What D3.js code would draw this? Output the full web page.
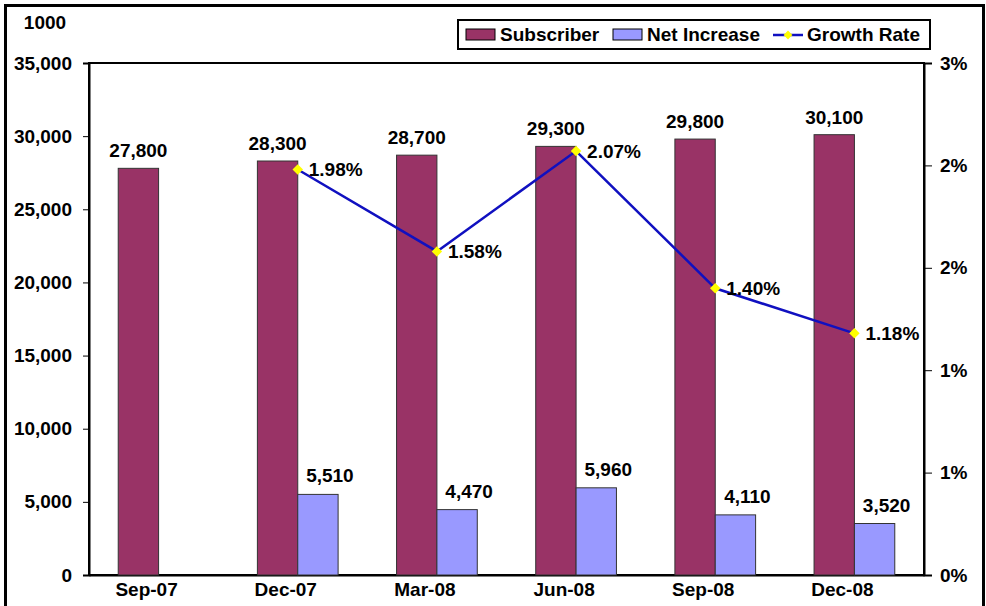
<!DOCTYPE html>
<html>
<head>
<meta charset="utf-8">
<script src="https://cdn.jsdelivr.net/npm/d3@7"></script>
<style>
  body { margin: 0; background: #fff; }
  text { font-family: "Liberation Sans", Arial, sans-serif; font-weight: bold; fill: #000; }
</style>
</head>
<body>
<div id="chart"></div>
<script>
// Data
var quarters = ["Sep-07", "Dec-07", "Mar-08", "Jun-08", "Sep-08", "Dec-08"];
var subscribers = [27800, 28300, 28700, 29300, 29800, 30100];
var netIncrease = [null, 5510, 4470, 5960, 4110, 3520];
var growthRate = [null, 1.98, 1.58, 2.07, 1.40, 1.18]; // percent
var leftTicks = [0, 5000, 10000, 15000, 20000, 25000, 30000, 35000];
var rightTicks = [0, 0.5, 1, 1.5, 2, 2.5];

var width = 986, height = 606;
var marginLeft = 89, marginRight = 62, marginTop = 63, marginBottom = 31;
var fs = "19px";

var svg = d3.select("#chart").append("svg")
  .attr("width", width)
  .attr("height", height);

// outer frame
svg.append("rect")
  .attr("x", 5.5).attr("y", 5.5)
  .attr("width", width - 8).attr("height", height + 10)
  .attr("fill", "none").attr("stroke", "#000").attr("stroke-width", 3);

// Scales
var x = d3.scaleBand().domain(quarters)
  .range([marginLeft, width - marginRight]);
var barW = x.bandwidth() * 0.29;
var yL = d3.scaleLinear().domain([0, 35000]).range([height - marginBottom, marginTop]);
var yR = d3.scaleLinear().domain([0, 2.5]).range([height - marginBottom, marginTop]);
var center = function (q) { return x(q) + x.bandwidth() / 2; };

// plot border
svg.append("rect")
  .attr("x", marginLeft).attr("y", marginTop)
  .attr("width", width - marginRight - marginLeft)
  .attr("height", height - marginBottom - marginTop)
  .attr("fill", "none").attr("stroke", "#000").attr("stroke-width", 2);

// Axes
svg.append("g")
  .attr("transform", `translate(${marginLeft},0)`)
  .call(d3.axisLeft(yL).tickValues(leftTicks).tickFormat(d3.format(",")).tickSize(6).tickPadding(11))
  .call((g) => g.select(".domain").attr("stroke-width", 2))
  .call((g) => g.selectAll("text").style("font-size", fs));

svg.append("g")
  .attr("transform", `translate(${width - marginRight},0)`)
  .call(d3.axisRight(yR).tickValues(rightTicks).tickFormat((d) => Math.round(d) + "%").tickSize(8).tickPadding(8))
  .call((g) => g.select(".domain").attr("stroke-width", 2))
  .call((g) => g.selectAll("text").style("font-size", fs));

svg.append("g")
  .attr("transform", `translate(0,${height - marginBottom})`)
  .call(d3.axisBottom(x).tickSize(0).tickPadding(8))
  .call((g) => g.select(".domain").attr("stroke-width", 2))
  .call((g) => g.selectAll("text").style("font-size", fs).attr("dx", -12));

// unit label
svg.append("text")
  .attr("x", 45).attr("y", 29)
  .attr("text-anchor", "middle")
  .style("font-size", fs)
  .text("1000");

// Subscriber bars
svg.append("g").selectAll("rect")
  .data(quarters)
  .join("rect")
  .attr("x", (d) => center(d) - barW)
  .attr("y", (d, i) => yL(subscribers[i]))
  .attr("width", barW)
  .attr("height", (d, i) => yL(0) - yL(subscribers[i]))
  .attr("fill", "#993366")
  .attr("stroke", "#333")
  .attr("stroke-width", 1);

// Net increase bars
var netData = quarters.map((q, i) => ({ q: q, v: netIncrease[i] })).filter((d) => d.v != null);
svg.append("g").selectAll("rect")
  .data(netData)
  .join("rect")
  .attr("x", (d) => center(d.q))
  .attr("y", (d) => yL(d.v))
  .attr("width", barW)
  .attr("height", (d) => yL(0) - yL(d.v))
  .attr("fill", "#9999ff")
  .attr("stroke", "#333")
  .attr("stroke-width", 1);

// Bar labels
var fmt = d3.format(",");
svg.append("g").selectAll("text")
  .data(quarters)
  .join("text")
  .attr("x", (d) => center(d) - barW / 2)
  .attr("y", (d, i) => yL(subscribers[i]) - 11)
  .attr("text-anchor", "middle")
  .style("font-size", fs)
  .text((d, i) => fmt(subscribers[i]));

svg.append("g").selectAll("text")
  .data(netData)
  .join("text")
  .attr("x", (d) => center(d.q) + barW / 2 + 12)
  .attr("y", (d) => yL(d.v) - 12)
  .attr("text-anchor", "middle")
  .style("font-size", fs)
  .text((d) => fmt(d.v));

// Growth rate line
var growthData = quarters.map((q, i) => ({ q: q, v: growthRate[i] })).filter((d) => d.v != null);
var line = d3.line()
  .x((d) => center(d.q))
  .y((d) => yR(d.v));

svg.append("path")
  .datum(growthData)
  .attr("fill", "none")
  .attr("stroke", "#1010c0")
  .attr("stroke-width", 2.5)
  .attr("d", line);

svg.append("g").selectAll("path")
  .data(growthData)
  .join("path")
  .attr("transform", (d) => `translate(${center(d.q)},${yR(d.v)})`)
  .attr("d", d3.symbol(d3.symbolDiamond2, 70))
  .attr("fill", "#ffff00");

svg.append("g").selectAll("text")
  .data(growthData)
  .join("text")
  .attr("x", (d) => center(d.q) + 11)
  .attr("y", (d) => yR(d.v))
  .attr("dy", "0.35em")
  .style("font-size", fs)
  .text((d) => d.v.toFixed(2) + "%");

// Legend
var legend = svg.append("g").attr("transform", "translate(458,20)");
legend.append("rect")
  .attr("width", 472).attr("height", 29)
  .attr("fill", "#fff").attr("stroke", "#000").attr("stroke-width", 2);

legend.append("rect").attr("x", 8).attr("y", 9).attr("width", 29).attr("height", 11)
  .attr("fill", "#993366").attr("stroke", "#000").attr("stroke-width", 1);
legend.append("text").attr("x", 42).attr("y", 21).style("font-size", fs).text("Subscriber");

legend.append("rect").attr("x", 155).attr("y", 9).attr("width", 29).attr("height", 11)
  .attr("fill", "#9999ff").attr("stroke", "#000").attr("stroke-width", 1);
legend.append("text").attr("x", 189).attr("y", 21).style("font-size", fs).text("Net Increase");

legend.append("line").attr("x1", 315).attr("x2", 345).attr("y1", 15).attr("y2", 15)
  .attr("stroke", "#1010c0").attr("stroke-width", 2.5);
legend.append("path").attr("transform", "translate(330,15)")
  .attr("d", d3.symbol(d3.symbolDiamond2, 50)).attr("fill", "#ffff00");
legend.append("text").attr("x", 349).attr("y", 21).style("font-size", fs).text("Growth Rate");
</script>
</body>
</html>
